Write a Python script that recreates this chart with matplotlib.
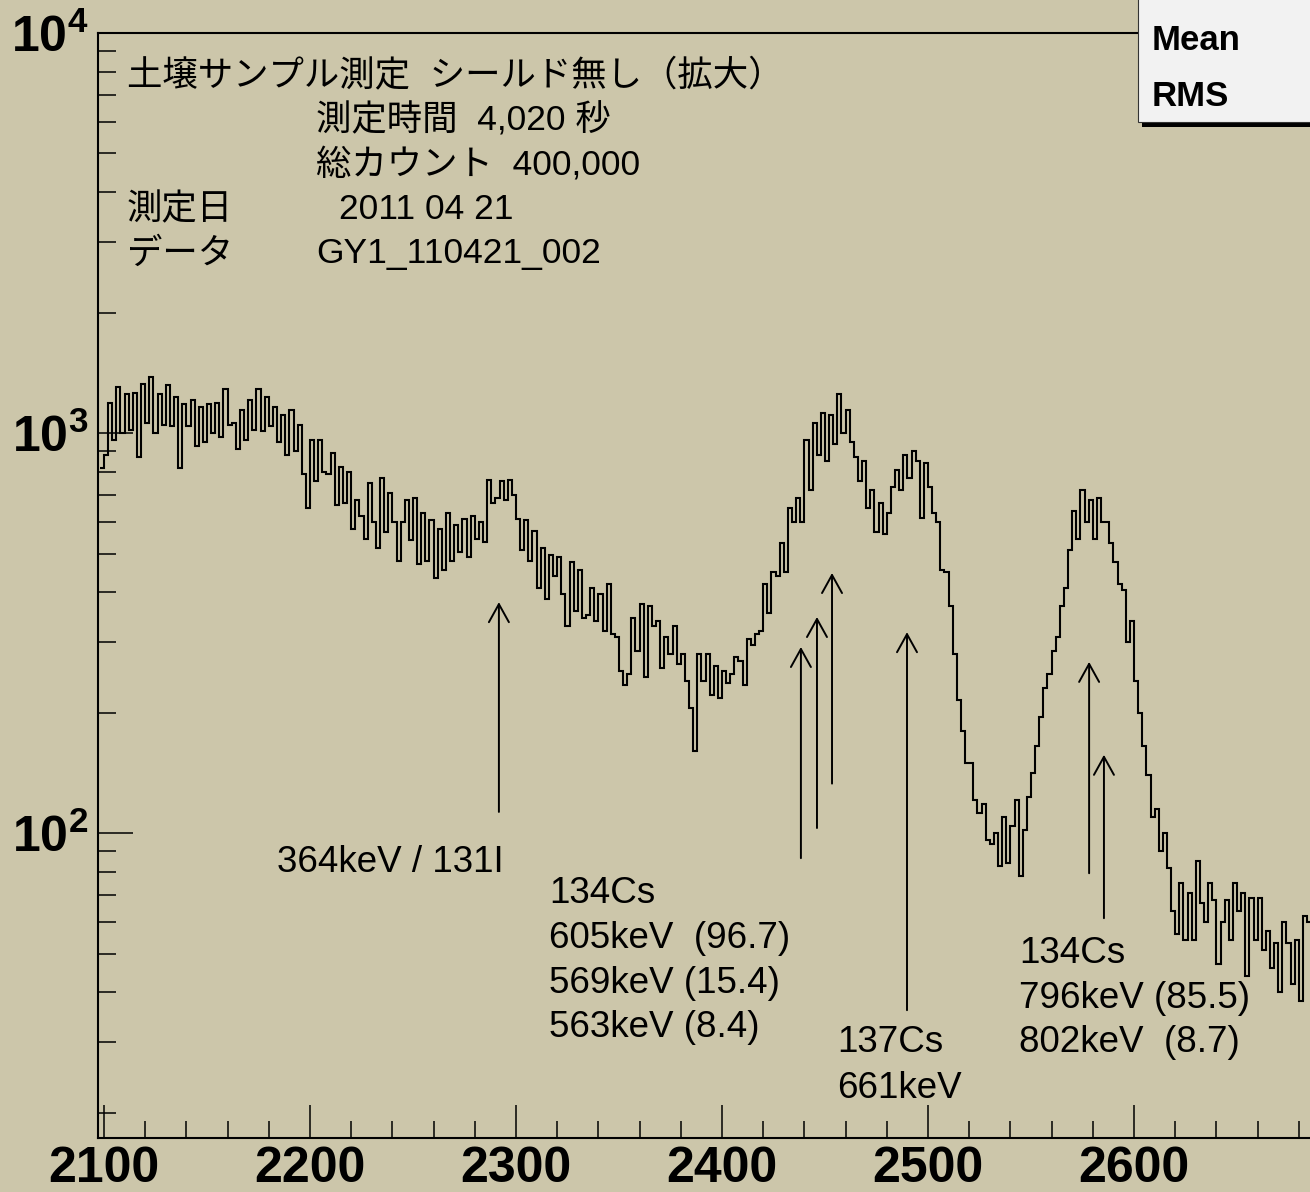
import matplotlib
matplotlib.use("Agg")
import numpy as np
import matplotlib.pyplot as plt
from matplotlib.patches import Rectangle
from matplotlib.ticker import MultipleLocator, LogLocator, NullFormatter

plt.rcParams['font.family'] = ['Liberation Sans', 'DejaVu Sans']
plt.rcParams['mathtext.fontset'] = 'custom'
plt.rcParams['mathtext.rm'] = 'Liberation Sans'
plt.rcParams['mathtext.bf'] = 'Liberation Sans:bold'

BG = '#ccc6aa'
# latin in Arial metrics, kana / kanji fall back to Noto CJK
JP = ['Liberation Sans', 'Noto Sans CJK JP', 'DejaVu Sans']

# spectrum: 2 channels per bin, first bin starts at channel 2098
first_channel = 2098
bin_width = 2
counts = [
    # 2098 - 2196
    820, 880, 1190, 960, 1300, 1000, 1250, 1020, 1260, 870,
    1330, 1060, 1380, 1000, 1250, 1050, 1320, 1040, 1230, 820,
    1180, 1040, 1210, 930, 1160, 950, 1180, 1000, 1190, 980,
    1290, 1050, 1060, 910, 1140, 960, 1210, 1020, 1290, 1010,
    1230, 1040, 1160, 950, 1110, 880, 1140, 900, 1050, 790,
    # 2198 - 2296
    650, 960, 760, 960, 800, 790, 890, 660, 825, 670,
    800, 575, 680, 620, 545, 750, 600, 515, 770, 565,
    710, 600, 480, 600, 680, 540, 690, 470, 630, 480,
    605, 435, 575, 455, 630, 480, 590, 505, 610, 490,
    620, 545, 600, 535, 765, 670, 690, 760, 680, 765,
    # 2298 - 2396
    700, 610, 510, 605, 480, 570, 410, 515, 385, 495,
    440, 490, 395, 330, 475, 360, 455, 345, 350, 410,
    340, 395, 320, 420, 315, 310, 255, 235, 250, 345,
    285, 375, 245, 370, 330, 340, 258, 310, 280, 330,
    265, 280, 240, 205, 160, 280, 240, 280, 222, 262,
    # 2398 - 2496
    218, 255, 237, 250, 275, 270, 235, 305, 295, 315,
    320, 420, 355, 450, 440, 530, 450, 650, 600, 690,
    600, 960, 720, 1060, 880, 1120, 850, 1110, 940, 1250,
    1000, 1140, 950, 870, 760, 850, 650, 720, 565, 670,
    560, 630, 735, 810, 720, 880, 770, 900, 850, 615,
    # 2498 - 2596
    840, 735, 630, 600, 455, 450, 370, 280, 215, 180,
    150, 150, 121, 112, 118, 96, 94, 100, 83, 110,
    84, 104, 121, 78, 102, 123, 141, 165, 195, 230,
    250, 285, 310, 370, 410, 510, 640, 545, 720, 600,
    680, 545, 690, 600, 600, 530, 475, 420, 405, 300,
    # 2598 - 2686
    340, 240, 200, 165, 140, 110, 115, 90, 100, 82,
    64, 56, 75, 54, 71, 54, 85, 67, 60, 75,
    68, 47, 60, 68, 54, 75, 64, 71, 44, 69,
    54, 69, 51, 57, 46, 53, 40, 60, 53, 42,
    54, 38, 62, 60, 50,
]

# peak markers (channel, arrow tip / tail in counts)
arrow_channel = [2291.7, 2438.3, 2446.1, 2453.4, 2489.8, 2578.2, 2585.4]
arrow_tip = [378, 292, 347, 447, 318, 268, 157]
arrow_tail = [113, 86.6, 103, 133, 36.1, 79.4, 61.3]

peak_text = ["364keV / 131I",
             "134Cs", "605keV  (96.7)", "569keV (15.4)", "563keV (8.4)",
             "137Cs", "661keV",
             "134Cs", "796keV (85.5)", "802keV  (8.7)"]
peak_text_x = [2184, 2316, 2316, 2316, 2316, 2455.8, 2455.8, 2544.2, 2544.2, 2544.2]
peak_text_y = [84.6, 70.8, 54.6, 42.2, 32.7, 29.9, 23.0, 50.1, 38.7, 29.9]

x_major = [2100, 2200, 2300, 2400, 2500, 2600]
y_major = [1e2, 1e3, 1e4]
y_labels = [r'$\mathbf{10^{2}}$', r'$\mathbf{10^{3}}$', r'$\mathbf{10^{4}}$']

fig = plt.figure(figsize=(13.10, 11.92), dpi=100, facecolor=BG)
ax = fig.add_axes([0.07466, 0.0453, 0.9404, 0.92701], facecolor=BG)

edges = first_channel + bin_width * np.arange(len(counts) + 1)
ax.stairs(counts, edges, baseline=None, color='black', lw=1.5)

ax.set_yscale('log')
ax.set_xlim(2097, 2695)
ax.set_ylim(17.3, 1e4)

ax.set_xticks(x_major)
ax.set_xticklabels([str(v) for v in x_major], fontsize=36, fontweight='bold')
ax.xaxis.set_minor_locator(MultipleLocator(20))
ax.set_yticks(y_major)
ax.set_yticklabels(y_labels, fontsize=36)
ax.yaxis.set_minor_locator(LogLocator(base=10, subs=np.arange(2, 10)))
ax.yaxis.set_minor_formatter(NullFormatter())

ax.tick_params(axis='x', which='major', direction='in', length=24, width=1.1, pad=6)
ax.tick_params(axis='x', which='minor', direction='in', length=12, width=1.1)
ax.tick_params(axis='y', which='major', direction='in', length=25, width=1.1, pad=7)
ax.tick_params(axis='y', which='minor', direction='in', length=13, width=1.1)
for s in ax.spines.values():
    s.set_linewidth(1.5)

for x, tip, tail in zip(arrow_channel, arrow_tip, arrow_tail):
    ax.annotate('', xy=(x, tip), xytext=(x, tail),
                arrowprops=dict(arrowstyle='->,head_length=1.3,head_width=0.72',
                                mutation_scale=10, lw=1.4, color='black',
                                shrinkA=0, shrinkB=0))

for t, x, y in zip(peak_text, peak_text_x, peak_text_y):
    ax.text(x, y, t, fontsize=26.5, ha='left', va='center')

# measurement info block
info = [
    (0.0235, 0.961, "土壌サンプル測定  シールド無し（拡大）"),
    (0.1771, 0.9214, "測定時間  4,020 秒"),
    (0.1771, 0.8806, "総カウント  400,000"),
    (0.0235, 0.8399, "測定日"),
    (0.1957, 0.8399, "2011 04 21"),
    (0.0235, 0.8001, "データ"),
    (0.1771, 0.8001, "GY1_110421_002"),
]
for x, y, t in info:
    ax.text(x, y, t, transform=ax.transAxes, fontsize=25.5, family=JP,
            ha='left', va='center')

# statistics box in the top right corner
fig.add_artist(Rectangle((1142 / 1310, (1192 - 127) / 1192), 0.2, 0.2,
                         transform=fig.transFigure, facecolor='black', edgecolor='none'))
fig.add_artist(Rectangle((1138 / 1310, (1192 - 122) / 1192), 0.2, 0.2,
                         transform=fig.transFigure, facecolor='#f2f2f2',
                         edgecolor='#333333', lw=0.8))
fig.text(1152 / 1310, (1192 - 41) / 1192, "Mean", fontsize=25, fontweight='bold', va='center')
fig.text(1152 / 1310, (1192 - 96) / 1192, "RMS", fontsize=25, fontweight='bold', va='center')

fig.savefig('out.png', dpi=100, facecolor=BG)
